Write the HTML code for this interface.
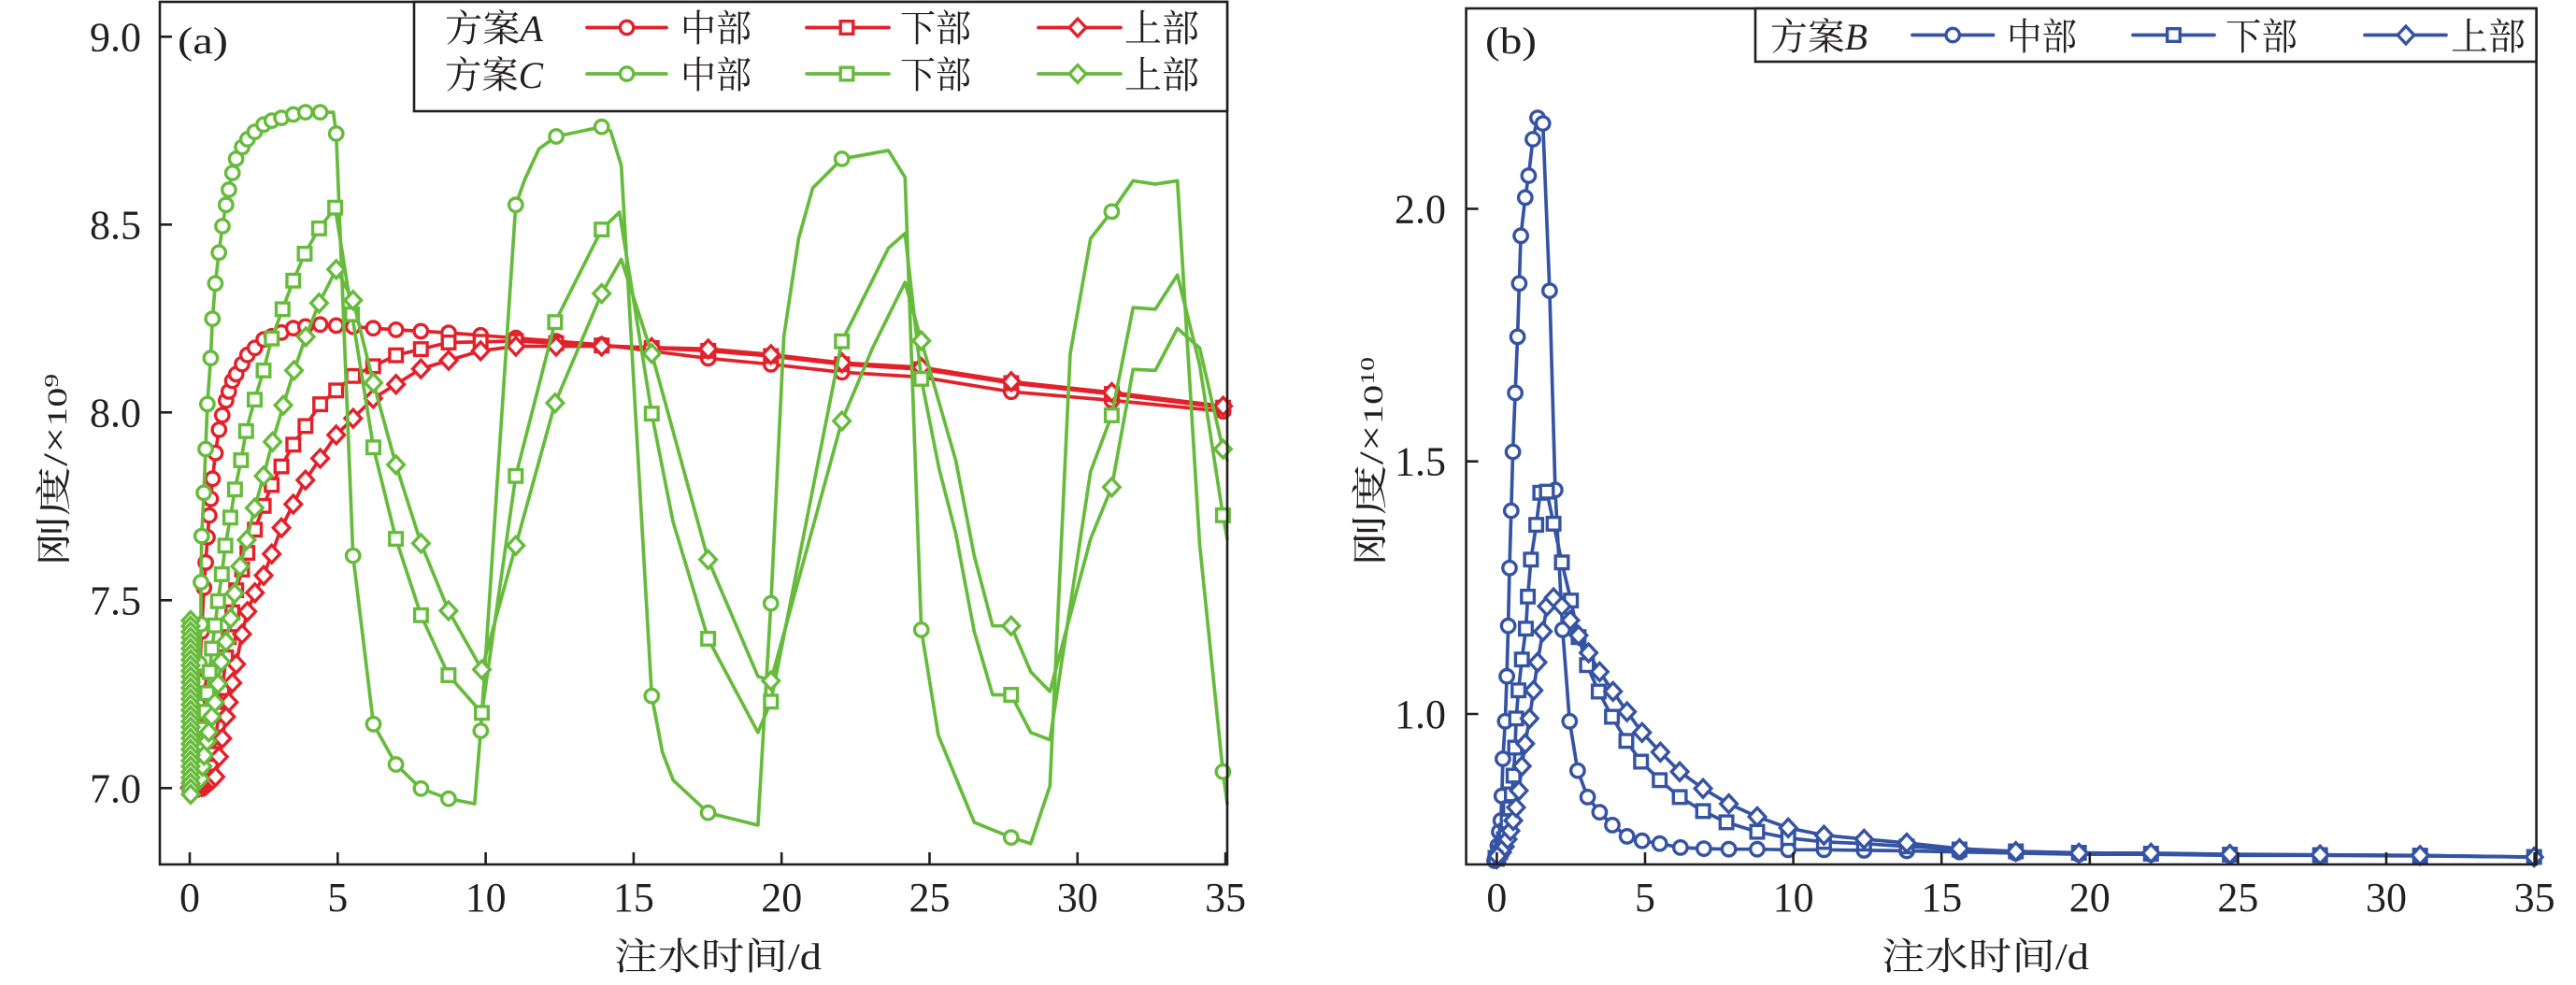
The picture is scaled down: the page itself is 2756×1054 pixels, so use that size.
<!DOCTYPE html>
<html><head><meta charset="utf-8">
<style>
html,body{margin:0;padding:0;background:#fff;}
svg{display:block;}
.t{font-family:"Liberation Serif","Noto Serif CJK SC",serif;fill:#231f20;}
</style></head><body>
<svg width="2756" height="1054" viewBox="0 0 2756 1054">
<rect width="2756" height="1054" fill="#fff"/>
<g id="da"></g>
<g id="db"></g>
<g fill="none" stroke="#231f20" stroke-width="2.6">
<rect x="171" y="2" width="1142" height="923"/>
<rect x="1568.6" y="9" width="1145" height="916"/>
<path d="M171 39.3h13M171 240.3h13M171 441.3h13M171 642.3h13M171 843.3h13M203 925v-13M361.3 925v-13M519.6 925v-13M677.9 925v-13M836.2 925v-13M994.5 925v-13M1152.8 925v-13M1311.1 925v-13"/>
<path d="M1568.6 223.4h13M1568.6 493.7h13M1568.6 764h13M1601.4 925v-13M1760 925v-13M1918.6 925v-13M2077.2 925v-13M2235.8 925v-13M2394.4 925v-13M2553 925v-13M2711.6 925v-13"/>
</g>
<g class="t" font-size="44" text-anchor="end">
<text x="151" y="54.3">9.0</text><text x="151" y="255.3">8.5</text><text x="151" y="456.3">8.0</text><text x="151" y="657.3">7.5</text><text x="151" y="858.3">7.0</text>
<text x="1547" y="238.4">2.0</text><text x="1547" y="508.7">1.5</text><text x="1547" y="779">1.0</text>
</g>
<g class="t" font-size="44" text-anchor="middle">
<text x="203" y="975">0</text><text x="361.3" y="975">5</text><text x="519.6" y="975">10</text><text x="677.9" y="975">15</text><text x="836.2" y="975">20</text><text x="994.5" y="975">25</text><text x="1152.8" y="975">30</text><text x="1311.1" y="975">35</text>
<text x="1601.4" y="975">0</text><text x="1760" y="975">5</text><text x="1918.6" y="975">10</text><text x="2077.2" y="975">15</text><text x="2235.8" y="975">20</text><text x="2394.4" y="975">25</text><text x="2553" y="975">30</text><text x="2711.6" y="975">35</text>
</g>
<text class="t" x="657" y="1037" font-size="40" textLength="222" lengthAdjust="spacingAndGlyphs">注水时间/d</text>
<text class="t" x="2013" y="1037" font-size="40" textLength="222" lengthAdjust="spacingAndGlyphs">注水时间/d</text>
<text class="t" transform="translate(71,605) rotate(-90)" font-size="38" textLength="205" lengthAdjust="spacingAndGlyphs">刚度<tspan font-size="36">/×</tspan><tspan font-size="30">10</tspan><tspan font-size="21" dy="-9">9</tspan></text>
<text class="t" transform="translate(1479,605) rotate(-90)" font-size="38" textLength="223" lengthAdjust="spacingAndGlyphs">刚度<tspan font-size="36">/×</tspan><tspan font-size="30">10</tspan><tspan font-size="21" dy="-9">10</tspan></text>
<text class="t" x="190" y="57" font-size="40" textLength="54" lengthAdjust="spacingAndGlyphs">(a)</text>
<text class="t" x="1589" y="57" font-size="40" textLength="55" lengthAdjust="spacingAndGlyphs">(b)</text>
<g id="lg"></g>
</svg>
<script>
const RC="#e2212a",GC="#66bb3c",BC="#3553a3";
const T=[0,0.04,0.08,0.12,0.16,0.2,0.24,0.28,0.32,0.4,0.48,0.54,0.6,0.66,0.71,0.77,0.87,0.99,1.1,1.23,1.32,1.44,1.57,1.77,1.95,2.2,2.5,2.77,3.1,3.5,3.91,4.41,4.95,5.52,6.2,6.97,7.81,8.75,9.83,11.02,12.38,13.92,15.61,17.52,19.64,22.04,24.72,27.76,31.16,34.92];
function lerp(k,t){if(t<=k[0][0])return k[0][1];for(let i=1;i<k.length;i++){if(t<=k[i][0]){const a=k[i-1],b=k[i];return a[1]+(b[1]-a[1])*(t-a[0])/(b[0]-a[0]);}}return k[k.length-1][1];}
const xa=t=>203+31.66*t, ya=v=>843.3-(v-7)*402;
function P(a){return a.map(p=>p[0].toFixed(1)+','+p[1].toFixed(1)).join(' ');}
function L(a,c,w){return '<polyline points="'+P(a)+'" fill="none" stroke="'+c+'" stroke-width="'+(w||3.7)+'" stroke-linejoin="round" stroke-linecap="round"/>';}
function mk(ty,x,y,c){
 if(ty=='o')return '<circle cx="'+x.toFixed(1)+'" cy="'+y.toFixed(1)+'" r="7.2" fill="#fff" stroke="'+c+'" stroke-width="3.4"/>';
 if(ty=='s')return '<rect x="'+(x-6.8).toFixed(1)+'" y="'+(y-6.8).toFixed(1)+'" width="13.6" height="13.6" fill="#fff" stroke="'+c+'" stroke-width="3.4"/>';
 return '<polygon points="'+x.toFixed(1)+','+(y-9.4).toFixed(1)+' '+(x+8.8).toFixed(1)+','+y.toFixed(1)+' '+x.toFixed(1)+','+(y+9.4).toFixed(1)+' '+(x-8.8).toFixed(1)+','+y.toFixed(1)+'" fill="#fff" stroke="'+c+'" stroke-width="3.4"/>';}
function M(a,ty,c){let s='';for(const p of a)s+=mk(ty,p[0],p[1],c);return s;}
function A(keys,ty,c){const tt=T.concat([35.08]);const ln=tt.map(t=>[xa(t),ya(lerp(keys,t))]);const ms=T.map(t=>[xa(t),ya(lerp(keys,t))]);return L(ln,c)+M(ms,ty,c);}
const AM=[[0,7.0],[0.15,7.05],[0.3,7.25],[0.45,7.5],[0.62,7.69],[0.8,7.85],[0.95,7.94],[1.15,8.01],[1.41,8.08],[1.95,8.153],[2.5,8.194],[3.46,8.224],[4.43,8.234],[5.52,8.228],[6.97,8.22],[8.72,8.212],[11.02,8.198],[13.92,8.18],[17.52,8.144],[19.64,8.128],[22.04,8.107],[24.72,8.094],[27.76,8.055],[31.16,8.032],[34.92,8.003],[35.1,8.0]];
const AS=[[0,7.0],[0.4,7.01],[0.7,7.06],[0.95,7.17],[1.2,7.33],[1.4,7.45],[1.6,7.54],[2.25,7.70],[2.8,7.813],[3.52,7.917],[4.37,8.019],[5.52,8.097],[6.97,8.152],[8.72,8.186],[11.02,8.19],[13.92,8.178],[17.52,8.164],[19.64,8.15],[22.04,8.128],[24.72,8.115],[27.76,8.078],[31.16,8.049],[35.1,8.011]];
const AU=[[0,7.0],[0.5,7.005],[0.87,7.03],[1.23,7.19],[1.44,7.28],[1.57,7.33],[1.77,7.41],[1.95,7.47],[2.2,7.52],[2.5,7.566],[3.1,7.693],[3.91,7.82],[4.95,7.94],[6.2,8.037],[7.81,8.116],[9.83,8.164],[11.02,8.176],[13.92,8.176],[17.52,8.169],[19.64,8.154],[22.04,8.132],[24.72,8.12],[27.76,8.082],[31.16,8.053],[35.1,8.015]];
const CML=[[204,848],[208,820],[211,760],[213.3,710],[215,668],[215,623],[215.8,573.6],[218.1,527.3],[220,480.5],[221.9,432.4],[225.4,383.2],[227.3,341.1],[230.4,303.3],[234.2,270.3],[238,242],[241.8,219.2],[244.9,203],[248.7,185],[252.6,170],[259.1,157.4],[264.8,149],[272.5,141.1],[282,133.3],[290.8,129.1],[301.2,126.1],[313.8,122.5],[326.8,120.1],[342.5,120.1],[356.7,120.1],[359.7,143],[377.7,594.6],[399.5,774.8],[423.6,818],[450.4,843.8],[479.9,854.7],[507.8,860.1],[514.3,782],[551.8,219.2],[561.4,192.2],[576.7,159.2],[595.1,146],[643.7,135.7],[653.2,140],[664.7,177.2],[697.3,744.7],[708.7,804.8],[720.2,834.8],[757.6,869.7],[810.9,883],[824.8,645.6],[838.6,360.4],[854.4,255.3],[869.5,201.2],[900.7,170],[950.5,161],[968.3,189.8],[985.7,673.9],[1003.9,786.8],[1042.3,879.9],[1081.8,896.1],[1102.8,902.7],[1123.3,840.8],[1145,378.4],[1166.8,255.3],[1189.4,226.4],[1212.3,193.4],[1236,197],[1259.7,193.4],[1283.5,582.6],[1308.4,825.8],[1313,860]];
const CMM=[[213.3,710],[215,668],[215,623],[215.8,573.6],[218.1,527.3],[220,480.5],[221.9,432.4],[225.4,383.2],[227.3,341.1],[230.4,303.3],[234.2,270.3],[238,242],[241.8,219.2],[244.9,203],[248.7,185],[252.6,170],[259.1,157.4],[264.8,149],[272.5,141.1],[282,133.3],[290.8,129.1],[301.2,126.1],[313.8,122.5],[326.8,120.1],[342.5,120.1],[359.7,143],[377.7,594.6],[399.5,774.8],[423.6,818],[450.4,843.8],[479.9,854.7],[514.3,782],[551.8,219.2],[595.1,146],[643.7,135.7],[697.3,744.7],[757.6,869.7],[824.8,645.6],[900.7,170],[985.7,673.9],[1081.8,896.1],[1189.4,226.4],[1308.4,825.8]];
const CSL=[[204,848],[210,830],[215,800],[218,780],[220,761.7],[221.7,741.7],[224.3,719],[226.7,694],[230,669.3],[233.3,643.3],[237.3,614.4],[241.1,583.8],[246.4,553.8],[251.4,523.7],[257.9,492.5],[263.3,461.3],[272.5,427.6],[282,396.4],[290.8,362.2],[302.3,330.9],[313.8,300.3],[326,271.5],[341.4,244.4],[358.6,222.2],[376.6,336.3],[399.5,478.7],[423.6,576.6],[450.4,658.3],[479.9,722.5],[515.5,762.8],[551.8,509.3],[593.9,344.7],[643.7,245.6],[662.8,227],[697.3,442.6],[720,558],[757.6,683.5],[810.9,783.8],[824.8,750.8],[900.7,365.2],[950.5,265.5],[968.3,249.8],[985.7,405.4],[1004.7,501.5],[1022.5,570.6],[1042.3,675.7],[1062,743.5],[1081.8,743.5],[1102.8,783.8],[1123.3,791.6],[1166.8,504.5],[1189.4,444.4],[1212.3,329.1],[1236,330.9],[1259.7,294.3],[1283.5,390.4],[1308.4,551.4],[1313,576.6]];
const CSM=[[215,800],[218,780],[220,761.7],[221.7,741.7],[224.3,719],[226.7,694],[230,669.3],[233.3,643.3],[237.3,614.4],[241.1,583.8],[246.4,553.8],[251.4,523.7],[257.9,492.5],[263.3,461.3],[272.5,427.6],[282,396.4],[290.8,362.2],[302.3,330.9],[313.8,300.3],[326,271.5],[341.4,244.4],[358.6,222.2],[376.6,336.3],[399.5,478.7],[423.6,576.6],[450.4,658.3],[479.9,722.5],[515.5,762.8],[551.8,509.3],[593.9,344.7],[643.7,245.6],[697.3,442.6],[757.6,683.5],[824.8,750.8],[900.7,365.2],[985.7,405.4],[1081.8,743.5],[1189.4,444.4],[1308.4,551.4]];
const CUL=[[204,848],[214.3,833.3],[216.7,820],[218.3,808.3],[221.7,793.3],[223.3,783.3],[226.7,766.7],[230,751.7],[233.3,731.7],[236.7,708.3],[241.7,686.7],[246.7,661.7],[251,635],[257,606],[264,577.8],[272.5,543.5],[282,509.3],[291.6,472.7],[303.1,433.6],[314.6,396.4],[327.2,360.4],[341.4,324.3],[359.7,288.3],[377.7,321.3],[399.5,409.6],[423.6,497.3],[450.4,581.4],[479.9,653.5],[515.5,716.5],[551.8,583.8],[593.9,431.2],[643.7,314.1],[664.7,277.5],[697.3,378.4],[720,461],[757.6,598.8],[810.9,723.7],[824.8,728.5],[900.7,450.5],[933.5,372.4],[968.3,302.1],[985.7,364.6],[1022.5,492.5],[1042.3,594.6],[1062,669.7],[1081.8,669.7],[1102.8,718.9],[1123.3,739.9],[1166.8,576.6],[1189.4,521.3],[1212.3,395.2],[1236,396.4],[1259.7,351.4],[1283.5,372.4],[1308.4,480.5],[1313,492.5]];
const CUM=[[214.3,833.3],[216.7,820],[218.3,808.3],[221.7,793.3],[223.3,783.3],[226.7,766.7],[230,751.7],[233.3,731.7],[236.7,708.3],[241.7,686.7],[246.7,661.7],[251,635],[257,606],[264,577.8],[272.5,543.5],[282,509.3],[291.6,472.7],[303.1,433.6],[314.6,396.4],[327.2,360.4],[341.4,324.3],[359.7,288.3],[377.7,321.3],[399.5,409.6],[423.6,497.3],[450.4,581.4],[479.9,653.5],[515.5,716.5],[551.8,583.8],[593.9,431.2],[643.7,314.1],[697.3,378.4],[757.6,598.8],[824.8,728.5],[900.7,450.5],[985.7,364.6],[1081.8,669.7],[1189.4,521.3],[1308.4,480.5]];
let col=[];for(let y=664;y<=850;y+=6)col.push([204,y]);
let sa='';
sa+=A(AM,'o',RC)+A(AS,'s',RC)+A(AU,'d',RC);
sa+=L(CML,GC)+M(CMM,'o',GC)+L(CSL,GC)+M(CSM,'s',GC)+L(CUL,GC)+M(CUM,'d',GC);
sa+=M(col,'d',GC);
document.getElementById('da').innerHTML=sa;
const BM=[[1601.4,919],[1602.5,905],[1604,890],[1605.7,878],[1606.8,851.7],[1607.9,812],[1610.4,771.8],[1612.1,723.7],[1613.6,669.7],[1615,607.8],[1616.8,546.5],[1618.6,483.5],[1621.1,420.4],[1623.6,360.4],[1625.4,303.3],[1627.1,252.3],[1631.8,211.4],[1635.4,188],[1640,149],[1645,126.1],[1650.7,132.1],[1657.9,311.1],[1663.9,524.3],[1671.8,673.9],[1679.3,771.8],[1687.9,824.6],[1698.6,852.9],[1711.4,869.1],[1725,882.9],[1740.7,894.9],[1756.8,899.7],[1775.7,902.7],[1797.9,906.9],[1822.9,908.1],[1849.6,908.7],[1880,908.7],[1913.2,909.3],[1951.4,909.3],[1994.3,909.9],[2040,910.5],[2096.4,911.7],[2156.7,912.9],[2224.2,914.1],[2301.3,914.1],[2385.7,915.3],[2482.2,915.3],[2589.2,915.9],[2711.2,917.1]];
const BS=[[1601.4,919],[1603,916],[1605,912],[1607,906],[1609,898],[1611,889],[1613,879],[1615.5,865],[1617.5,850],[1619.3,830],[1621,800],[1622.1,768.8],[1624.6,738.7],[1628.2,705.7],[1632.5,672.7],[1634.6,638.4],[1637.9,598.8],[1643.6,561.6],[1647.9,527.3],[1655,526.1],[1662.1,560.4],[1671,601.8],[1680.7,642.6],[1688.9,681.7],[1697.9,711.7],[1710.4,740],[1724.6,767],[1740,792.8],[1755.7,815],[1775.7,834.8],[1797.1,852.9],[1822.1,867.9],[1847.1,879.9],[1880,890.1],[1913.2,896.7],[1951.4,900.9],[1994.3,902.7],[2040,905.7],[2096.4,909],[2156.7,911],[2224.2,912.5],[2301.3,913.5],[2385.7,914.5],[2482.2,915],[2589.2,915.5],[2711.2,917]];
const BU=[[1601.4,919],[1604,916],[1607,912],[1610,906],[1613,898],[1616,889],[1619,878],[1622,864],[1625,846],[1628.2,819.8],[1631.8,795.8],[1636.4,768.8],[1640.7,738.7],[1645,708.7],[1650.7,675.7],[1655,648.6],[1662.1,639.6],[1671,648.6],[1680,663.7],[1688.9,679.9],[1699.6,698.5],[1711.4,718.9],[1725.7,739.9],[1740.7,761.6],[1756.8,783.8],[1776.4,804.8],[1797.1,825.8],[1822.1,843.8],[1849.6,860.1],[1880,873.9],[1913.2,885.9],[1951.4,893.7],[1994.3,897.9],[2040,902],[2096.4,908.1],[2156.7,911.1],[2224.2,912.9],[2301.3,912.9],[2385.7,914.1],[2482.2,914.7],[2589.2,915.3],[2711.2,917.1]];
let sb='';
sb+=L(BM,BC)+M(BM,'o',BC)+L(BS,BC)+M(BS,'s',BC)+L(BU,BC)+M(BU,'d',BC);
sb+=mk('o',1599,921,BC)+mk('s',1600,918,BC)+mk('d',1602,916,BC);
document.getElementById('db').innerHTML=sb;
let lg='';
lg+='<rect x="443" y="2" width="870" height="117" fill="#fff" stroke="#231f20" stroke-width="2.6"/>';
const rowsA=[[29.5,RC,44,'A'],[79,GC,94,'C']];
for(const r of rowsA){const y=r[0],c=r[1];
 lg+=L([[628,y],[713,y]],c)+mk('o',670.6,y,c);
 lg+=L([[863,y],[951,y]],c)+mk('s',906,y,c);
 lg+=L([[1111,y],[1199,y]],c)+mk('d',1153,y,c);
 lg+='<text class="t" x="476" y="'+r[2]+'" font-size="40" textLength="105" lengthAdjust="spacingAndGlyphs">方案<tspan font-style="italic">'+r[3]+'</tspan></text>';
 lg+='<text class="t" x="728" y="'+r[2]+'" font-size="40" textLength="76" lengthAdjust="spacingAndGlyphs">中部</text>';
 lg+='<text class="t" x="963" y="'+r[2]+'" font-size="40" textLength="76" lengthAdjust="spacingAndGlyphs">下部</text>';
 lg+='<text class="t" x="1203" y="'+r[2]+'" font-size="40" textLength="80" lengthAdjust="spacingAndGlyphs">上部</text>';
}
lg+='<rect x="1878" y="9" width="835.6" height="57" fill="#fff" stroke="#231f20" stroke-width="2.6"/>';
{const y=37.5,c=BC;
 lg+=L([[2046,y],[2132.6,y]],c)+mk('o',2089.2,y,c);
 lg+=L([[2282,y],[2369,y]],c)+mk('s',2325.5,y,c);
 lg+=L([[2530,y],[2617,y]],c)+mk('d',2574,y,c);
 lg+='<text class="t" x="1894" y="53" font-size="40" textLength="104" lengthAdjust="spacingAndGlyphs">方案<tspan font-style="italic">B</tspan></text>';
 lg+='<text class="t" x="2147" y="53" font-size="40" textLength="75" lengthAdjust="spacingAndGlyphs">中部</text>';
 lg+='<text class="t" x="2381" y="53" font-size="40" textLength="77" lengthAdjust="spacingAndGlyphs">下部</text>';
 lg+='<text class="t" x="2622" y="53" font-size="40" textLength="80" lengthAdjust="spacingAndGlyphs">上部</text>';
}
document.getElementById('lg').innerHTML=lg;
</script>
</body></html>
